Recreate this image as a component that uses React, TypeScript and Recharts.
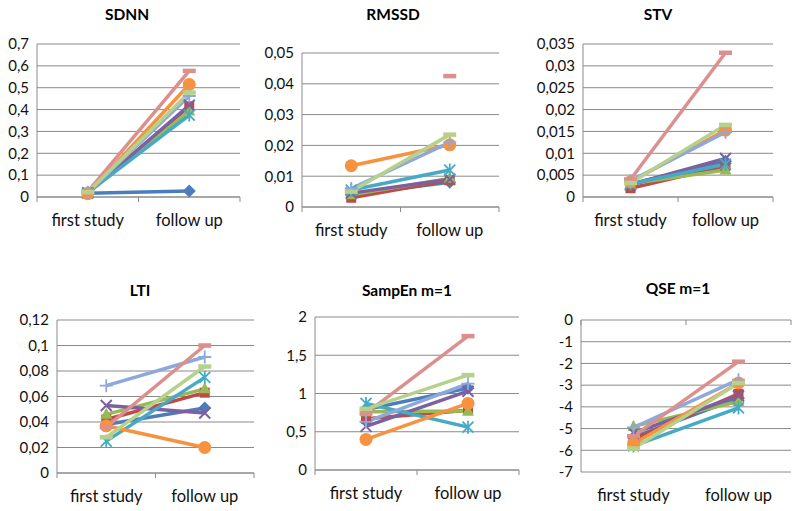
import { LineChart, Line, XAxis, YAxis, CartesianGrid } from "recharts"

const categories = ["first study", "follow up"]

// series order: blue, red, green, purple, aqua, orange, light blue, pink, light green
const sdnnFirst = [0.017, 0.02, 0.02, 0.018, 0.02, 0.015, 0.022, 0.025, 0.022]
const sdnnFollow = [0.027, 0.415, 0.393, 0.42, 0.375, 0.515, 0.462, 0.577, 0.478]

const rmssdFirst = [0.004, 0.003, 0.004, 0.0045, 0.0055, 0.0134, 0.006, null, 0.005]
const rmssdFollow = [0.008, 0.0087, 0.0093, 0.009, 0.012, 0.0202, 0.021, 0.0425, 0.0235]

const stvFirst = [0.003, 0.002, 0.003, 0.0028, 0.003, 0.0035, 0.0037, 0.004, 0.0032]
const stvFollow = [0.0082, 0.0071, 0.0062, 0.0088, 0.0075, 0.0153, 0.0148, 0.033, 0.0165]

const ltiFirst = [0.038, 0.042, 0.046, 0.053, 0.025, 0.037, 0.0685, 0.036, 0.028]
const ltiFollow = [0.051, 0.063, 0.066, 0.047, 0.075, 0.02, 0.091, 0.1, 0.0835]

const sampEnFirst = [0.79, 0.67, 0.76, 0.57, 0.87, 0.4, 0.63, 0.74, 0.8]
const sampEnFollow = [1.07, 0.78, 0.77, 1.03, 0.56, 0.87, 1.13, 1.75, 1.24]

const qseFirst = [-5.4, -5.5, -4.9, -5.2, -5.8, -5.7, -4.95, -5.35, -5.92]
const qseFollow = [-3.6, -3.4, -3.75, -3.5, -4.05, -2.9, -2.75, -1.92, -2.9]

const sdnnTicks = [0, 0.1, 0.2, 0.3, 0.4, 0.5, 0.6, 0.7]
const rmssdTicks = [0, 0.01, 0.02, 0.03, 0.04, 0.05]
const stvTicks = [0, 0.005, 0.01, 0.015, 0.02, 0.025, 0.03, 0.035]
const ltiTicks = [0, 0.02, 0.04, 0.06, 0.08, 0.1, 0.12]
const sampEnTicks = [0, 0.5, 1, 1.5, 2]
const qseTicks = [-7, -6, -5, -4, -3, -2, -1, 0]

const colors = ["#4a7ebb", "#be4b48", "#98b954", "#7d60a0", "#46aac5", "#f69240", "#8fa8dc", "#dc908e", "#b6d18b"]
const markers = ["diamond", "square", "triangle", "x", "star", "circle", "plus", "dash", "dash"]

const GRID = "#8a8a8a"
const YW = 50
const TOP = 10
const RIGHT = 5
const XH = 34
const BOTTOM = 4

function buildRows(first: (number | null)[], follow: (number | null)[]) {
  return categories.map((c, i) => {
    const row: Record<string, any> = { cat: c }
    const src = i === 0 ? first : follow
    src.forEach((v, k) => { row["s" + k] = v })
    return row
  })
}

const fmt = (v: number) => String(v).replace(".", ",")

function renderMarker(kind: string, color: string) {
  return (p: any) => {
    const { cx, cy, index } = p
    const key = `m-${index}`
    if (cx == null || cy == null || p.value == null) return <g key={key} />
    switch (kind) {
      case "diamond":
        return <polygon key={key} points={`${cx},${cy - 6.5} ${cx + 6.5},${cy} ${cx},${cy + 6.5} ${cx - 6.5},${cy}`} fill={color} />
      case "square":
        return <rect key={key} x={cx - 5} y={cy - 5} width={10} height={10} fill={color} />
      case "triangle":
        return <polygon key={key} points={`${cx},${cy - 6.5} ${cx + 6},${cy + 4.5} ${cx - 6},${cy + 4.5}`} fill={color} />
      case "x":
        return <path key={key} d={`M${cx - 5.5},${cy - 5.5}L${cx + 5.5},${cy + 5.5}M${cx + 5.5},${cy - 5.5}L${cx - 5.5},${cy + 5.5}`} stroke={color} strokeWidth={2} />
      case "star":
        return <path key={key} d={`M${cx - 5.5},${cy - 5.5}L${cx + 5.5},${cy + 5.5}M${cx + 5.5},${cy - 5.5}L${cx - 5.5},${cy + 5.5}M${cx},${cy - 6.5}V${cy + 6.5}`} stroke={color} strokeWidth={1.8} />
      case "circle":
        return <circle key={key} cx={cx} cy={cy} r={6.5} fill={color} />
      case "plus":
        return <path key={key} d={`M${cx - 6.5},${cy}H${cx + 6.5}M${cx},${cy - 6.5}V${cy + 6.5}`} stroke={color} strokeWidth={1.8} />
      default:
        return <rect key={key} x={cx - 6.5} y={cy - 2.25} width={13} height={4.5} fill={color} />
    }
  }
}

type Panel = {
  title: string
  first: (number | null)[]
  follow: (number | null)[]
  ticks: number[]
  x0: number; x1: number; y0: number; y1: number
  tx: number; ty: number
  axisTop?: boolean
}

const panels: Panel[] = [
  { title: "SDNN", first: sdnnFirst, follow: sdnnFollow, ticks: sdnnTicks, x0: 37, x1: 240, y0: 44, y1: 197, tx: 127, ty: 14 },
  { title: "RMSSD", first: rmssdFirst, follow: rmssdFollow, ticks: rmssdTicks, x0: 302, x1: 499, y0: 53, y1: 207, tx: 393, ty: 14 },
  { title: "STV", first: stvFirst, follow: stvFollow, ticks: stvTicks, x0: 583, x1: 773, y0: 44, y1: 197, tx: 658, ty: 14 },
  { title: "LTI", first: ltiFirst, follow: ltiFollow, ticks: ltiTicks, x0: 57, x1: 254, y0: 320, y1: 473, tx: 140, ty: 290 },
  { title: "SampEn m=1", first: sampEnFirst, follow: sampEnFollow, ticks: sampEnTicks, x0: 315, x1: 519, y0: 317, y1: 470, tx: 407, ty: 290 },
  { title: "QSE m=1", first: qseFirst, follow: qseFollow, ticks: qseTicks, x0: 581, x1: 791, y0: 320, y1: 472, tx: 678, ty: 288, axisTop: true },
]

function SmallChart({ p }: { p: Panel }) {
  const plotW = p.x1 - p.x0
  const plotH = p.y1 - p.y0
  const width = plotW + YW + RIGHT
  const height = TOP + plotH + XH + BOTTOM
  const bw = plotW / 2
  const plotTop = TOP
  const plotBottom = TOP + plotH
  const rows = buildRows(p.first, p.follow)
  const base = p.axisTop ? plotTop : plotBottom

  const catTick = (t: any) => {
    const x = t.x
    const left = x - bw / 2
    return (
      <g key={`t-${t.index}`}>
        <line x1={left} x2={left} y1={base} y2={base + 5} stroke={GRID} />
        {t.index === 1 && <line x1={x + bw / 2} x2={x + bw / 2} y1={base} y2={base + 5} stroke={GRID} />}
        <text x={x} y={plotBottom + 23} textAnchor="middle" dominantBaseline="central" fontSize={16.5} fill="#111">
          {t.payload.value}
        </text>
      </g>
    )
  }

  return (
    <>
      <div style={{ position: "absolute", left: p.tx - 80, top: p.ty - 10, width: 160, textAlign: "center", lineHeight: "20px", fontSize: 15.5, fontWeight: "bold", color: "#000" }}>
        {p.title}
      </div>
      <div style={{ position: "absolute", left: p.x0 - YW, top: p.y0 - TOP }}>
        <LineChart width={width} height={height} data={rows} margin={{ top: TOP, right: RIGHT, left: 0, bottom: BOTTOM }}>
          <CartesianGrid vertical={false} stroke={GRID} />
          <XAxis dataKey="cat" scale="band" height={XH} interval={0} tickLine={false}
            axisLine={p.axisTop ? false : { stroke: GRID }} tick={catTick} />
          <YAxis width={YW} domain={[p.ticks[0], p.ticks[p.ticks.length - 1]]} ticks={p.ticks} tickFormatter={fmt}
            tickLine={false} axisLine={{ stroke: GRID }} tick={{ fill: "#111", fontSize: 15 }} interval={0} />
          {colors.map((c, k) => (
            <Line key={k} dataKey={"s" + k} stroke={c} strokeWidth={3.5} isAnimationActive={false}
              dot={renderMarker(markers[k], c)} activeDot={false} connectNulls={false} />
          ))}
        </LineChart>
      </div>
    </>
  )
}

export default function App() {
  return (
    <div style={{ position: "absolute", left: 0, top: 0, width: 800, height: 511, overflow: "hidden", background: "#fff", fontFamily: "Lato, 'Open Sans', sans-serif" }}>
      {panels.map((p) => <SmallChart key={p.title} p={p} />)}
    </div>
  )
}
